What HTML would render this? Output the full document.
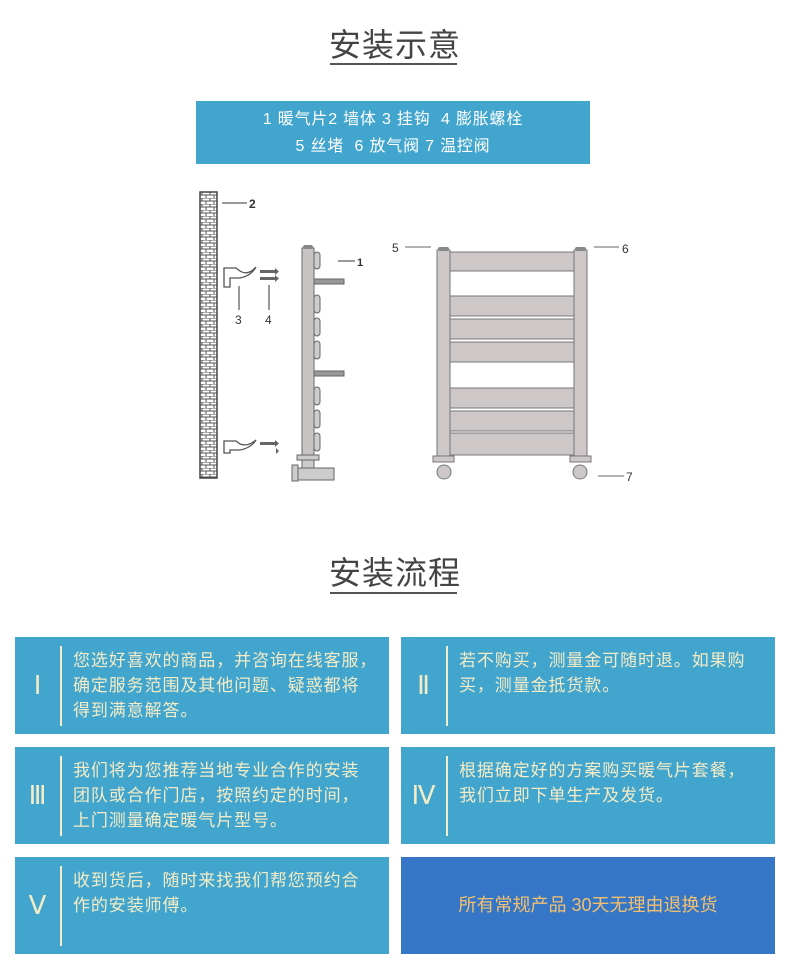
<!DOCTYPE html>
<html><head><meta charset="utf-8"><style>
body{margin:0;width:790px;height:974px;background:#fff;position:relative;font-family:"Liberation Sans","Noto Sans CJK SC",sans-serif;overflow:hidden}
.t{position:absolute;left:0;width:790px;text-align:center;font-size:32px;color:#444;letter-spacing:1px}
.ul{position:absolute;height:2px;background:#555}
.box{position:absolute;left:196px;top:101px;width:394px;height:63px;background:#42a5cd;color:#fff;font-size:16px;text-align:center;line-height:27px;padding-top:5px;box-sizing:border-box;letter-spacing:0.8px}
.c{position:absolute;width:374px;height:97px;background:#42a5cd;color:#f4ecc6;font-size:17px;line-height:25px;letter-spacing:0.9px}
.c .n{position:absolute;left:0;width:46px;top:0;height:97px;line-height:97px;text-align:center;font-size:26px;font-family:"Liberation Serif",serif}
.c .d{position:absolute;left:45px;top:9px;width:2px;height:80px;background:#f4ecc6}
.c .x{position:absolute;left:58px;top:11px;width:316px;white-space:nowrap}
</style></head><body>
<div class="t" style="top:20px">安装示意</div>
<div class="ul" style="left:330px;top:63px;width:127px"></div>
<div class="box">1 暖气片2 墙体 3 挂钩 &nbsp;4 膨胀螺栓<br>5 丝堵 &nbsp;6 放气阀 7 温控阀</div>
<svg style="position:absolute;left:0;top:0" width="790" height="500">
<defs><pattern id="b" width="8" height="6" patternUnits="userSpaceOnUse"><rect width="8" height="6" fill="#fff"/><path d="M0 0H8M0 3H8M2 0V3M6 3V6" stroke="#555" stroke-width="1"/></pattern></defs>
<rect x="200" y="192" width="17" height="286" fill="url(#b)" stroke="#444" stroke-width="1.5"/>
<line x1="222" y1="203" x2="247" y2="203" stroke="#333"/><text x="249" y="208" font-size="12" font-weight="bold" fill="#333" font-family="Liberation Sans">2</text>
<g fill="none" stroke="#555" stroke-width="1.3">
<path d="M224 287V268H236L240 271Q248 276 256 267Q251 276 240 278H230V287Z"/>
<path d="M224 453V441H236L240 444Q248 447 256 440Q251 448 240 450H230V453Z"/>
</g>
<g fill="#666"><rect x="260" y="270" width="15" height="3"/><rect x="260" y="277" width="15" height="3"/><path d="M275 268l4 3.5-4 3.5zM275 275l4 3.5-4 3.5z"/><rect x="260" y="442" width="15" height="3"/><path d="M275 440l4 3.5-4 3.5zM276 448l3 3-3 3z"/></g>
<line x1="239" y1="286" x2="239" y2="310" stroke="#333"/><line x1="269" y1="285" x2="269" y2="310" stroke="#333"/>
<text x="235" y="324" font-size="12" fill="#333">3</text><text x="265" y="324" font-size="12" fill="#333">4</text>
<rect x="302" y="248" width="12" height="210" fill="#c9c4c4" stroke="#666"/>
<rect x="303" y="245" width="10" height="4" rx="2" fill="#888"/>
<g fill="#ccc" stroke="#666"><rect x="314" y="252" width="6" height="17" rx="3"/><rect x="314" y="295" width="6" height="18" rx="3"/><rect x="314" y="318" width="6" height="18" rx="3"/><rect x="314" y="341" width="6" height="18" rx="3"/><rect x="314" y="387" width="6" height="18" rx="3"/><rect x="314" y="410" width="6" height="18" rx="3"/><rect x="314" y="433" width="6" height="18" rx="3"/>
<rect x="314" y="279" width="30" height="5" fill="#999"/><rect x="314" y="371" width="30" height="5" fill="#999"/>
<rect x="297" y="455" width="22" height="5"/><rect x="302" y="460" width="12" height="10"/><rect x="292" y="465" width="6" height="16"/><rect x="298" y="468" width="36" height="12"/></g>
<line x1="338" y1="261" x2="355" y2="261" stroke="#333"/><text x="357" y="266" font-size="11" font-weight="bold" fill="#333">1</text>
<g stroke="#777" fill="#cdc7c8">
<rect x="450" y="252" width="124" height="19"/><rect x="450" y="296" width="124" height="20"/><rect x="450" y="319" width="124" height="20"/><rect x="450" y="342" width="124" height="20"/><rect x="450" y="388" width="124" height="20"/><rect x="450" y="411" width="124" height="20"/><rect x="450" y="433" width="124" height="22"/>
<rect x="437" y="250" width="13" height="206"/><rect x="574" y="250" width="13" height="206"/>
<rect x="433" y="456" width="21" height="6"/><rect x="570" y="456" width="21" height="6"/>
<circle cx="444" cy="472" r="7"/><circle cx="580" cy="472" r="7"/></g>
<rect x="438" y="247" width="11" height="4" rx="2" fill="#888"/><rect x="575" y="247" width="11" height="4" rx="2" fill="#888"/>
<g stroke="#666"><line x1="405" y1="247" x2="431" y2="247"/><line x1="594" y1="247" x2="619" y2="247"/><line x1="598" y1="476" x2="624" y2="476"/></g>
<g font-size="12" fill="#333"><text x="392" y="252">5</text><text x="622" y="253">6</text><text x="626" y="481">7</text></g>
</svg>
<div class="t" style="top:548px">安装流程</div>
<div class="ul" style="left:330px;top:592px;width:127px"></div>
<div class="c" style="left:15px;top:637px"><div class="n">Ⅰ</div><div class="d"></div><div class="x">您选好喜欢的商品，并咨询在线客服，<br>确定服务范围及其他问题、疑惑都将<br>得到满意解答。</div></div>
<div class="c" style="left:401px;top:637px"><div class="n">Ⅱ</div><div class="d"></div><div class="x">若不购买，测量金可随时退。如果购<br>买，测量金抵货款。</div></div>
<div class="c" style="left:15px;top:747px"><div class="n">Ⅲ</div><div class="d"></div><div class="x">我们将为您推荐当地专业合作的安装<br>团队或合作门店，按照约定的时间，<br>上门测量确定暖气片型号。</div></div>
<div class="c" style="left:401px;top:747px"><div class="n">Ⅳ</div><div class="d"></div><div class="x">根据确定好的方案购买暖气片套餐，<br>我们立即下单生产及发货。</div></div>
<div class="c" style="left:15px;top:857px"><div class="n">Ⅴ</div><div class="d"></div><div class="x">收到货后，随时来找我们帮您预约合<br>作的安装师傅。</div></div>
<div class="c" style="left:401px;top:857px;background:#3576c6;color:#f3c070;text-align:center;line-height:97px;font-size:18px;letter-spacing:0">所有常规产品 30天无理由退换货</div>
</body></html>
